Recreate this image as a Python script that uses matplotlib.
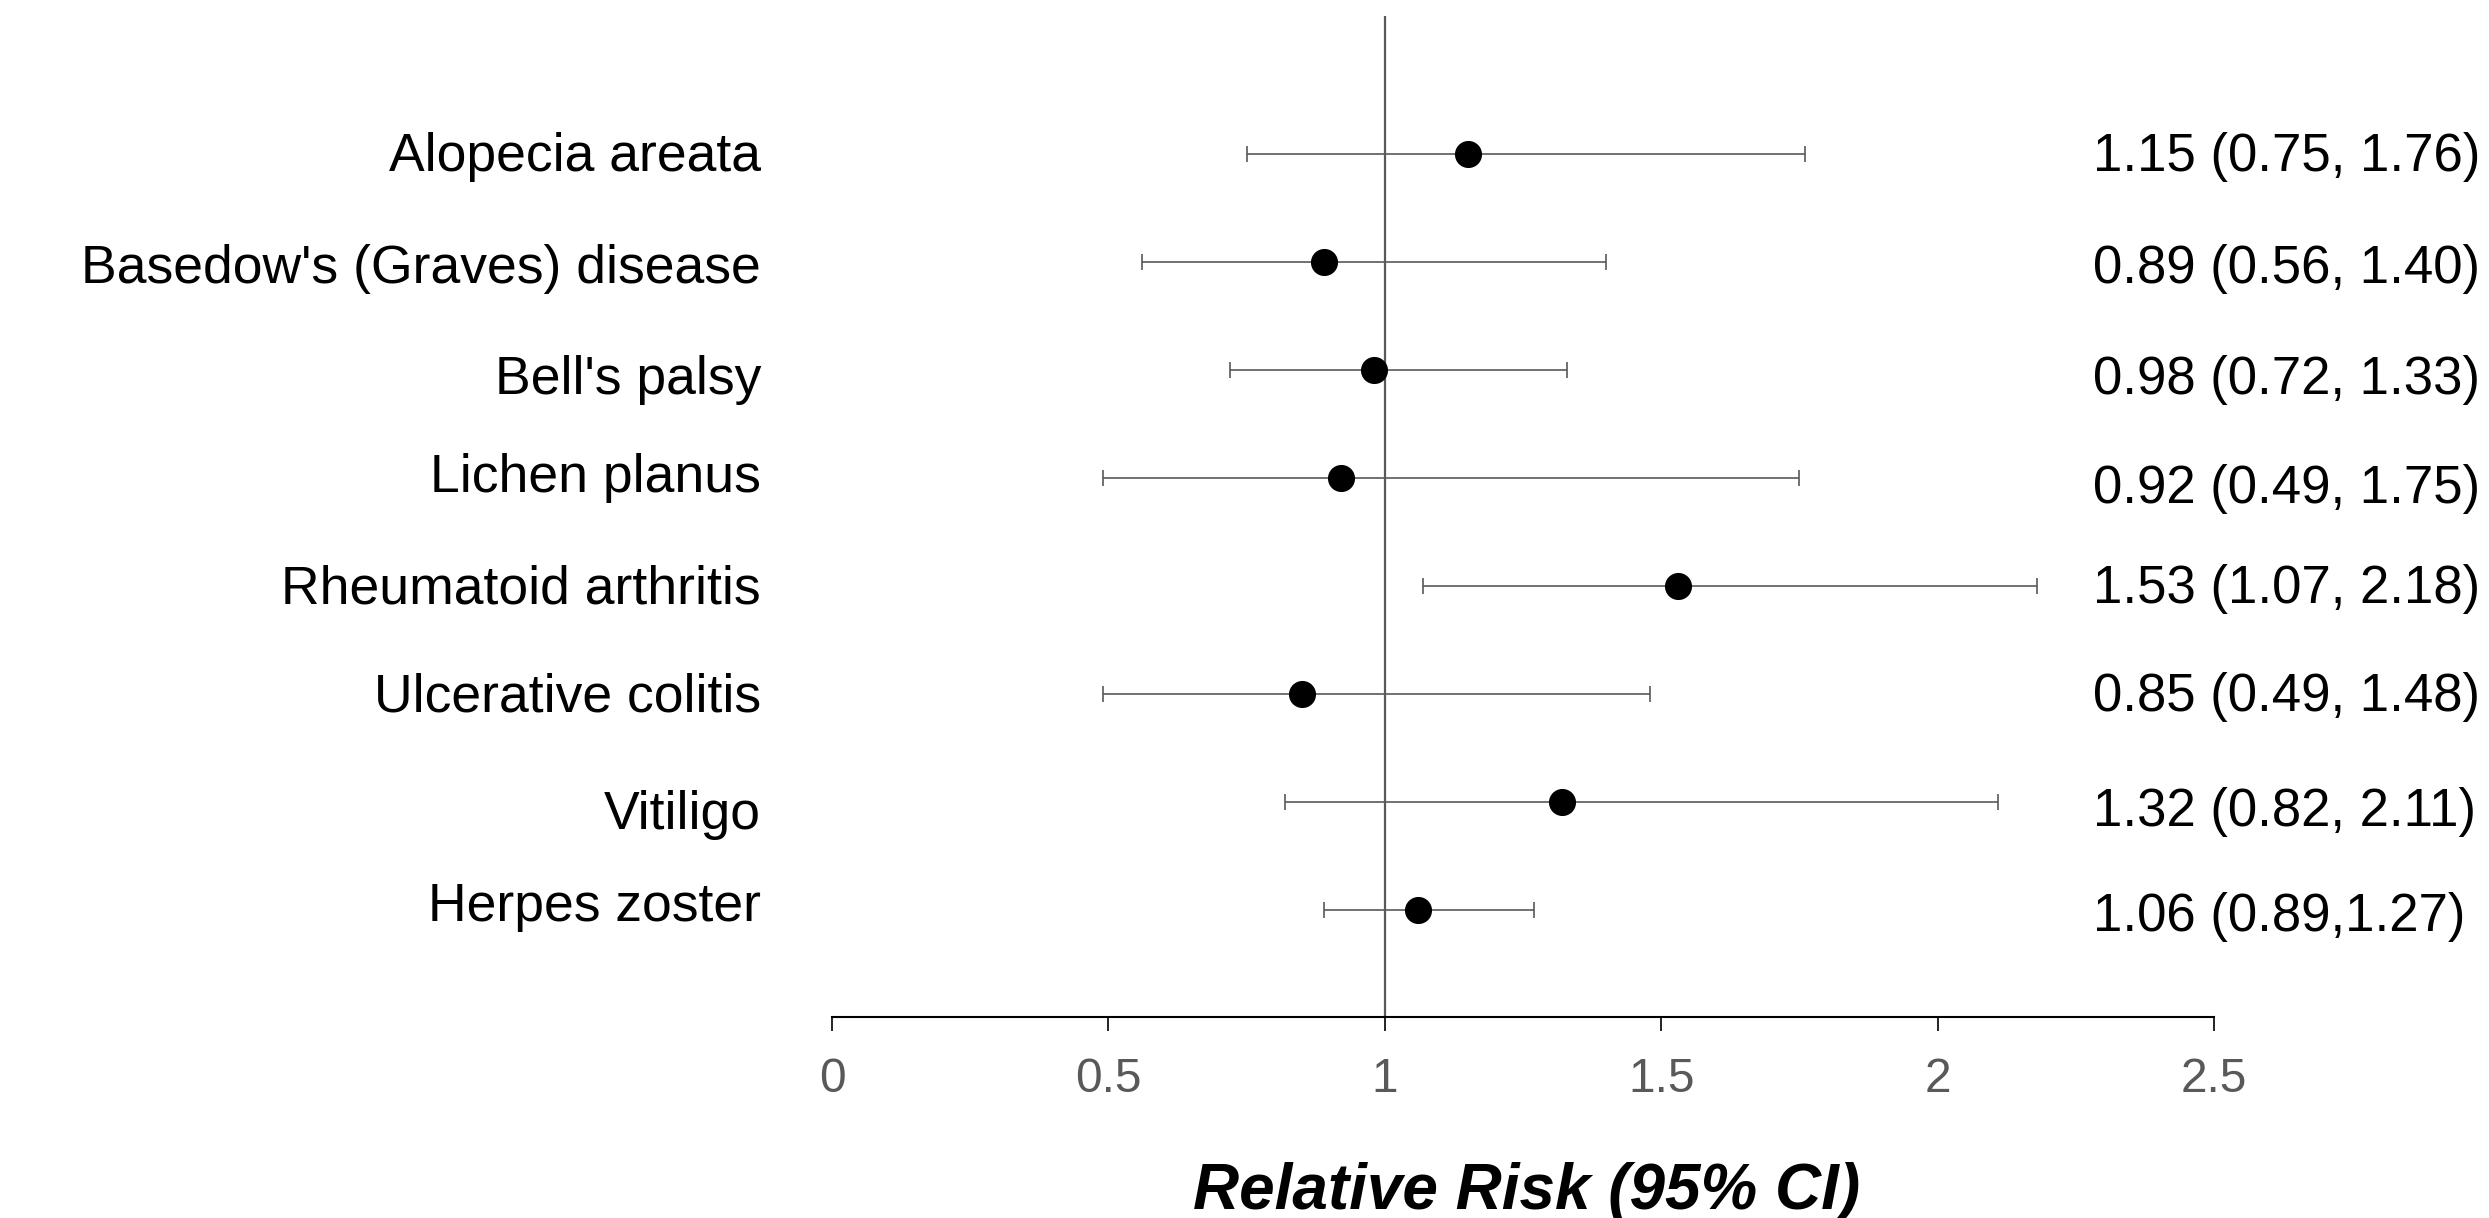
import numpy as np
import matplotlib
matplotlib.use("Agg")
import matplotlib.pyplot as plt
from matplotlib.transforms import blended_transform_factory

plt.rcParams['font.family'] = ['Liberation Sans', 'DejaVu Sans']

# data
conditions = ["Alopecia areata", "Basedow's (Graves) disease", "Bell's palsy",
              "Lichen planus", "Rheumatoid arthritis", "Ulcerative colitis",
              "Vitiligo", "Herpes zoster"]
rr = [1.15, 0.89, 0.98, 0.92, 1.53, 0.85, 1.32, 1.06]
ci_low = [0.75, 0.56, 0.72, 0.49, 1.07, 0.49, 0.82, 0.89]
ci_high = [1.76, 1.40, 1.33, 1.75, 2.18, 1.48, 2.11, 1.27]
rr_text = ["1.15 (0.75, 1.76)", "0.89 (0.56, 1.40)", "0.98 (0.72, 1.33)",
           "0.92 (0.49, 1.75)", "1.53 (1.07, 2.18)", "0.85 (0.49, 1.48)",
           "1.32 (0.82, 2.11)", "1.06 (0.89,1.27)"]
xticks = [0, 0.5, 1, 1.5, 2, 2.5]
xtick_labels = ["0", "0.5", "1", "1.5", "2", "2.5"]

# small vertical nudges of the text columns (in rows), as in the picture
label_dy = [0.03, 0.06, 0.09, 0.0, 0.03, 0.03, 0.12, -0.03]
value_dy = [0.03, 0.06, 0.09, 0.10, 0.03, 0.03, 0.09, 0.06]

fig = plt.figure(figsize=(24.89, 12.18), dpi=100)
ax = fig.add_axes([832 / 2489, 201 / 1218, 1382 / 2489, 1001 / 1218])

y = np.arange(len(conditions))
rr = np.array(rr)
err = [rr - np.array(ci_low), np.array(ci_high) - rr]

ax.axvline(1, color='#595959', lw=1.6, zorder=1)
ax.errorbar(rr, y, xerr=err, fmt='o', color='black', ms=18.5,
            ecolor='#595959', elinewidth=1.2, capsize=5.5, capthick=1.2, zorder=3)

ax.set_xlim(0, 2.5)
ax.set_ylim(7.99, -1.278)
ax.set_yticks([])
for s in ['left', 'top', 'right']:
    ax.spines[s].set_visible(False)
ax.spines['bottom'].set_linewidth(1.5)
ax.set_xticks(xticks)
ax.set_xticklabels(xtick_labels)
ax.tick_params(axis='x', length=10, width=1.2, pad=19, labelsize=34.5,
               labelcolor='#595959')

tr = blended_transform_factory(fig.transFigure, ax.transData)
for i, name in enumerate(conditions):
    ax.text(761 / 2489, y[i] + label_dy[i], name, transform=tr,
            ha='right', va='center', fontsize=38.5, color='black')
    ax.text(2093 / 2489, y[i] + value_dy[i], rr_text[i], transform=tr,
            ha='left', va='center', fontsize=38, color='black')

fig.text(1527 / 2489, (1218 - 1209) / 1218, "Relative Risk (95% CI)",
         ha='center', va='baseline', fontsize=46, fontweight='bold',
         fontstyle='italic', color='black')

fig.savefig("out.png", dpi=100)
